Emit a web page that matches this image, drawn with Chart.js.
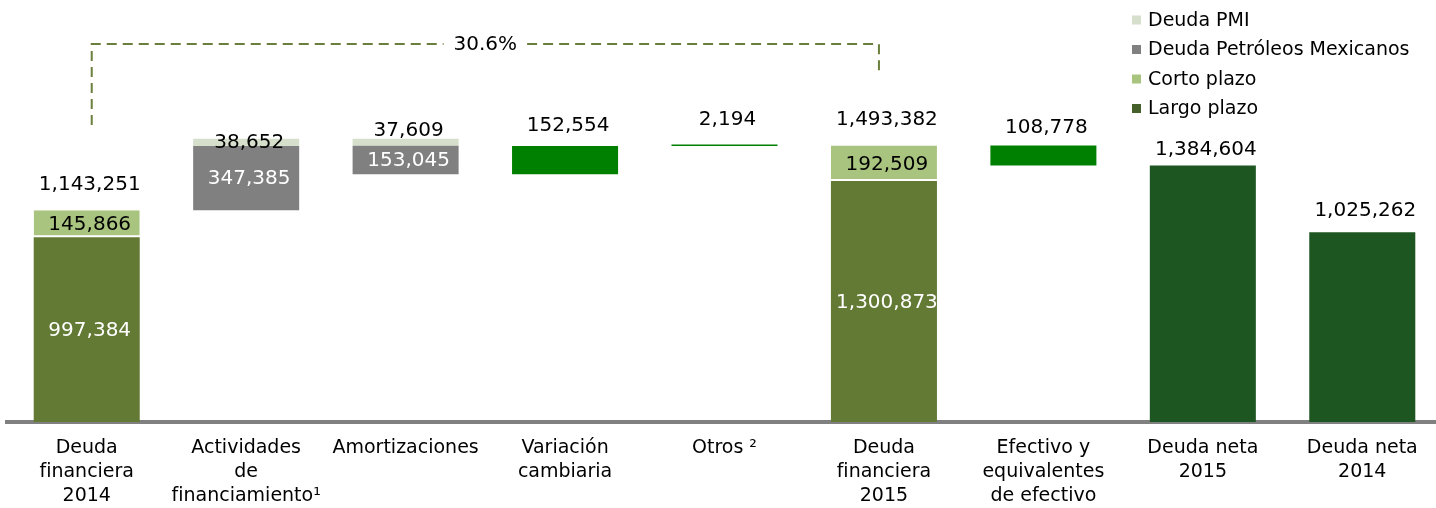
<!DOCTYPE html>
<html lang="es">
<head>
    <meta charset="UTF-8">
    <title>Deuda financiera 2014 - 2015</title>
    <script src="https://cdn.jsdelivr.net/npm/chart.js"></script>
    <style>
        body {
            margin: 0;
            padding: 0;
            background-color: #fff;
            overflow: hidden;
        }

        .container {
            position: relative;
            width: 1442px;
            height: 522px;
        }
    </style>
</head>
<body>
    <div class="container">
        <canvas id="graficoDeuda"></canvas>
    </div>

    <script>
        // Categorias del eje x
        const categorias = [
            ['Deuda', 'financiera', '2014'],
            ['Actividades', 'de', 'financiamiento¹'],
            ['Amortizaciones'],
            ['Variación', 'cambiaria'],
            ['Otros ²'],
            ['Deuda', 'financiera', '2015'],
            ['Efectivo y', 'equivalentes', 'de efectivo'],
            ['Deuda neta', '2015'],
            ['Deuda neta', '2014']
        ];

        // Valores (millones de pesos); negativo = disminuye la deuda
        const largoPlazo = [997384, null, null, null, null, 1300873, null, null, null];
        const cortoPlazo = [145866, null, null, null, null, 192509, null, null, null];
        const totalDeuda = [1143251, null, null, null, null, 1493382, null, null, null];
        const deudaPemex = [null, 347385, -153045, null, null, null, null, null, null];
        const deudaPMI = [null, 38652, -37609, null, null, null, null, null, null];
        const variaciones = [null, null, null, 152554, 2194, null, -108778, null, null];
        const deudaNeta = [null, null, null, null, null, null, null, 1384604, 1025262];

        // Rangos flotantes para la cascada
        const rLargo = [], rCorto = [], rPemex = [], rPMI = [], rVar = [], rNeta = [];
        let acumulado = 0;
        for (let i = 0; i < categorias.length; i++) {
            rLargo.push(null); rCorto.push(null); rPemex.push(null);
            rPMI.push(null); rVar.push(null); rNeta.push(null);
            if (largoPlazo[i] !== null) {
                rLargo[i] = [0, largoPlazo[i]];
                rCorto[i] = [largoPlazo[i], largoPlazo[i] + cortoPlazo[i]];
                acumulado = largoPlazo[i] + cortoPlazo[i];
            } else if (deudaPemex[i] !== null) {
                if (deudaPemex[i] > 0) {
                    rPemex[i] = [acumulado, acumulado + deudaPemex[i]];
                    rPMI[i] = [acumulado + deudaPemex[i], acumulado + deudaPemex[i] + deudaPMI[i]];
                } else {
                    rPMI[i] = [acumulado + deudaPMI[i], acumulado];
                    rPemex[i] = [acumulado + deudaPMI[i] + deudaPemex[i], acumulado + deudaPMI[i]];
                }
                acumulado += deudaPemex[i] + deudaPMI[i];
            } else if (variaciones[i] !== null) {
                const fin = acumulado + variaciones[i];
                rVar[i] = [Math.min(acumulado, fin), Math.max(acumulado, fin)];
                acumulado = fin;
            } else if (deudaNeta[i] !== null) {
                rNeta[i] = [0, deudaNeta[i]];
            }
        }

        const formato = v => Math.abs(v).toLocaleString('en-US');
        const fuente = '"DejaVu Sans", sans-serif';

        // distancia (px) entre el tope de la barra y el centro de la etiqueta superior
        const separacion = [26, -3.5, 8.5, 20, 24.5, 26, 18, 16, 21.5];

        // Etiquetas de valores
        const etiquetas = {
            id: 'etiquetas',
            afterDatasetsDraw(chart) {
                const ctx = chart.ctx;
                ctx.save();
                ctx.font = '20px ' + fuente;
                ctx.textAlign = 'center';
                ctx.textBaseline = 'middle';
                chart.data.datasets.forEach((ds, di) => {
                    const meta = chart.getDatasetMeta(di);
                    meta.data.forEach((barra, i) => {
                        if (ds.valores[i] === null) return;
                        const tope = Math.min(barra.y, barra.base);
                        const x = barra.x + 3;
                        ctx.fillStyle = ds.colorTexto;
                        if (ds.modo === 'dentro') {
                            ctx.fillText(formato(ds.valores[i]), x, (barra.y + barra.base) / 2 + 1);
                        } else {
                            ctx.fillText(formato(ds.valores[i]), x, tope - separacion[i]);
                        }
                        // total encima de las barras apiladas
                        if (ds.label === 'Corto plazo' && totalDeuda[i] !== null) {
                            ctx.fillStyle = '#000';
                            ctx.fillText(formato(totalDeuda[i]), x, tope - separacion[i]);
                        }
                    });
                });
                ctx.restore();
            }
        };

        // Leyenda arriba a la derecha
        const leyenda = {
            id: 'leyenda',
            afterDraw(chart) {
                const ctx = chart.ctx;
                const nombres = ['Deuda PMI', 'Deuda Petróleos Mexicanos', 'Corto plazo', 'Largo plazo'];
                const colores = ['#d6dfcb', '#808080', '#a9c47f', '#46602c'];
                const ys = [20, 49.5, 79, 108.5];
                ctx.save();
                ctx.font = '19px ' + fuente;
                ctx.textAlign = 'left';
                ctx.textBaseline = 'middle';
                nombres.forEach((n, k) => {
                    ctx.fillStyle = colores[k];
                    ctx.fillRect(1132, ys[k] - 4.5, 9, 9);
                    ctx.fillStyle = '#000';
                    ctx.fillText(n, 1148, ys[k] + 1);
                });
                ctx.restore();
            }
        };

        // Corchete punteado con la variacion porcentual
        const corchete = {
            id: 'corchete',
            afterDraw(chart) {
                const ctx = chart.ctx;
                const xs = chart.scales.x;
                const x1 = xs.getPixelForValue(0) + 5;
                const x2 = xs.getPixelForValue(5) - 5;
                const yLinea = 44, yIzq = 125, yDer = 73;
                const pct = ((totalDeuda[5] - totalDeuda[0]) / totalDeuda[0] * 100).toFixed(1) + '%';
                ctx.save();
                ctx.font = '20px ' + fuente;
                const ancho = ctx.measureText(pct).width;
                const xm = (x1 + x2) / 2;
                ctx.strokeStyle = '#6b7f3c';
                ctx.lineWidth = 2;
                ctx.setLineDash([10, 6]);
                ctx.beginPath();
                ctx.moveTo(x1, yIzq);
                ctx.lineTo(x1, yLinea);
                ctx.lineTo(xm - ancho / 2 - 10, yLinea);
                ctx.stroke();
                ctx.beginPath();
                ctx.moveTo(xm + ancho / 2 + 10, yLinea);
                ctx.lineTo(x2, yLinea);
                ctx.lineTo(x2, yDer);
                ctx.stroke();
                ctx.fillStyle = '#000';
                ctx.textAlign = 'center';
                ctx.textBaseline = 'middle';
                ctx.fillText(pct, xm, yLinea + 1);
                ctx.restore();
            }
        };

        const comun = { grouped: false, barPercentage: 0.665, categoryPercentage: 1 };

        const ctx = document.getElementById('graficoDeuda').getContext('2d');
        new Chart(ctx, {
            type: 'bar',
            data: {
                labels: categorias,
                datasets: [
                    Object.assign({ label: 'Largo plazo', data: rLargo, valores: largoPlazo, modo: 'dentro',
                        colorTexto: '#fff', backgroundColor: '#637a35' }, comun),
                    Object.assign({ label: 'Corto plazo', data: rCorto, valores: cortoPlazo, modo: 'dentro',
                        colorTexto: '#000', backgroundColor: '#a9c47f', borderColor: '#fff',
                        borderWidth: { top: 0, left: 0, right: 0, bottom: 2 }, borderSkipped: false }, comun),
                    Object.assign({ label: 'Deuda Petróleos Mexicanos', data: rPemex, valores: deudaPemex, modo: 'dentro',
                        colorTexto: '#fff', backgroundColor: '#808080' }, comun),
                    Object.assign({ label: 'Deuda PMI', data: rPMI, valores: deudaPMI, modo: 'arriba',
                        colorTexto: '#000', backgroundColor: '#d6dfcb' }, comun),
                    Object.assign({ label: 'Variaciones', data: rVar, valores: variaciones, modo: 'arriba',
                        colorTexto: '#000', backgroundColor: '#008000', minBarLength: 1.5 }, comun),
                    Object.assign({ label: 'Deuda neta', data: rNeta, valores: deudaNeta, modo: 'arriba',
                        colorTexto: '#000', backgroundColor: '#1e5622' }, comun)
                ]
            },
            options: {
                responsive: true,
                maintainAspectRatio: false,
                animation: false,
                layout: { padding: { top: 10, bottom: 0, left: 7, right: 0 } },
                plugins: {
                    legend: { display: false },
                    tooltip: { enabled: false }
                },
                scales: {
                    x: {
                        z: 1,
                        offset: true,
                        grid: { display: false, drawTicks: false },
                        border: { display: true, color: '#808080', width: 4 },
                        ticks: {
                            autoSkip: false,
                            maxRotation: 0,
                            padding: 14,
                            color: '#000',
                            font: { family: 'DejaVu Sans', size: 19, lineHeight: 1.263 }
                        }
                    },
                    y: {
                        display: false,
                        min: 0,
                        max: 2225000
                    }
                }
            },
            plugins: [etiquetas, leyenda, corchete]
        });
    </script>
</body>
</html>
